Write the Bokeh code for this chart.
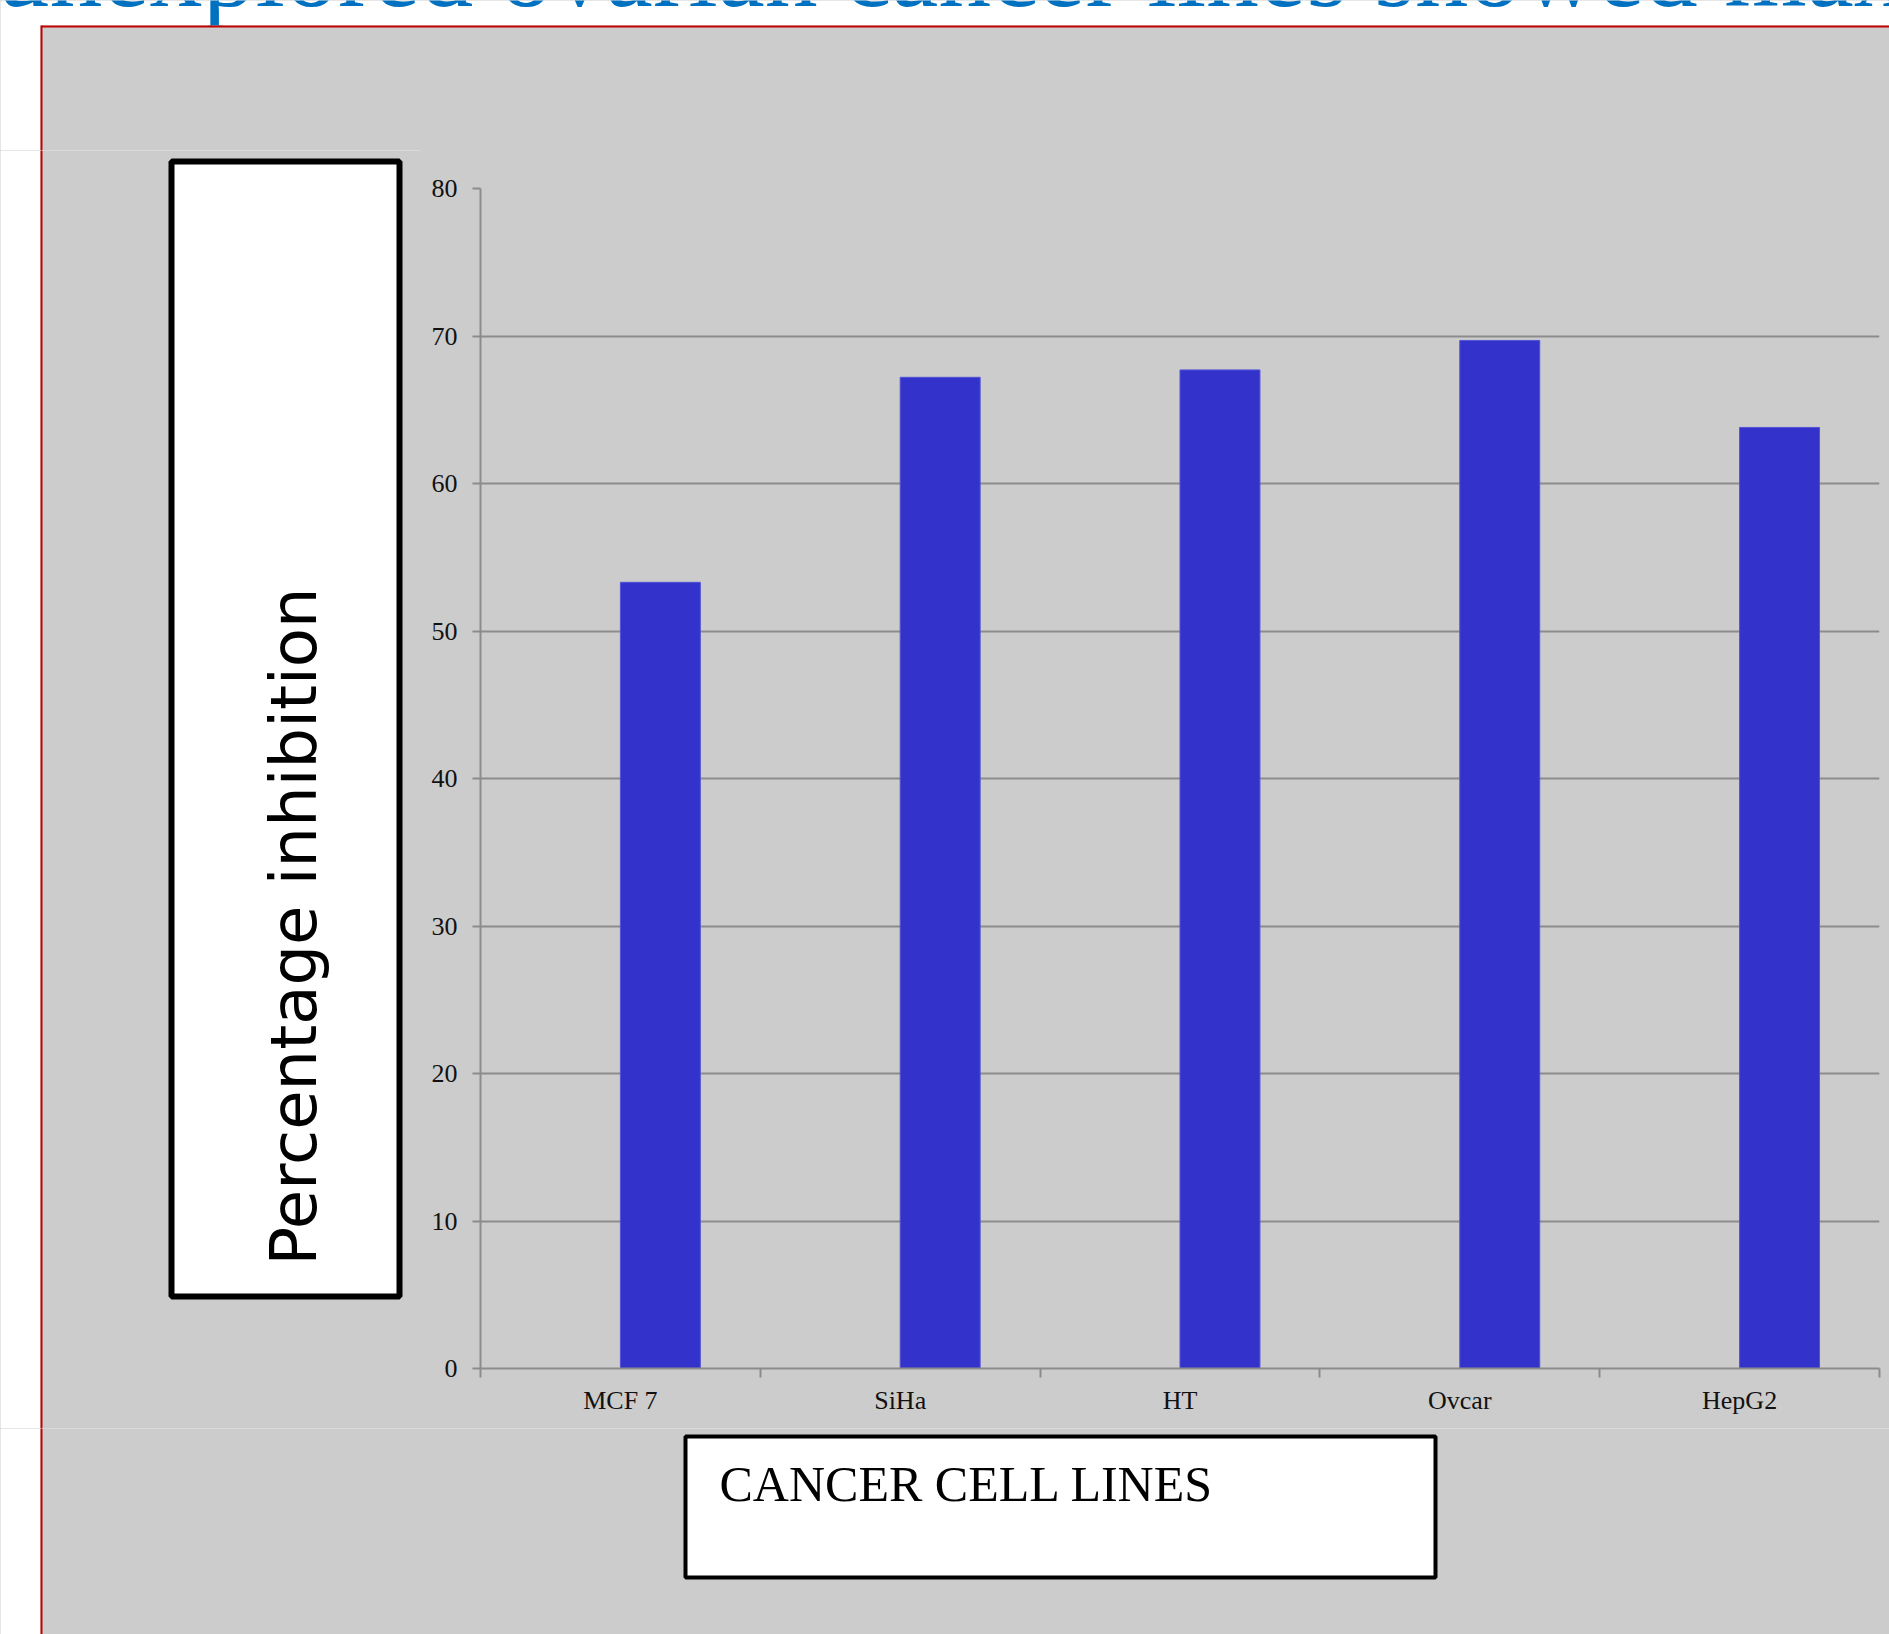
import numpy as np
from bokeh.plotting import figure
from bokeh.layouts import column, row
from bokeh.models import Range1d, FixedTicker
from bokeh.core.properties import value
from bokeh.embed import file_html
from bokeh.resources import INLINE

# ---------------- data ----------------
categories = ["MCF 7", "SiHa", "HT", "Ovcar", "HepG2"]
inhibition = [53.3, 67.2, 67.7, 69.7, 63.8]
y_ticks = [0, 10, 20, 30, 40, 50, 60, 70, 80]
title_text = "unexplored ovarian cancer lines showed max"
y_label = "Percentage inhibition"
x_label = "CANCER CELL LINES"

# ---------------- page layout ----------------
W, H = 1889, 1634
TOP_H = 150          # top strip (title + red frame top)
BOT_Y = 1428         # start of bottom strip
LEFT_W = 420         # left strip holding the y-title box
MID_H = BOT_Y - TOP_H
GRAY = "#cccccc"
RED = "#c00000"
BASELINE_FIX = 0.4   # em offset of Bokeh's "alphabetic" text placement


def deco_fig(w, h):
    f = figure(width=w, height=h, output_backend="svg", toolbar_location=None,
               title=None, x_axis_type=None, y_axis_type=None,
               x_range=Range1d(0, w), y_range=Range1d(h, 0),
               min_border=0, min_border_left=0, min_border_right=0,
               min_border_top=0, min_border_bottom=0, frame_align=False)
    f.background_fill_color = "white"
    f.border_fill_color = "white"
    f.outline_line_color = None
    return f


# ---- top strip ----
top = deco_fig(W, TOP_H)
top.text(x=[-4], y=[12 - BASELINE_FIX * 106], text=[title_text],
         text_font=value("Liberation Serif"),
         text_font_size=value("106px"), text_color="#0070c0",
         text_align="left", text_baseline="alphabetic")
top.quad(left=[40], right=[W + 10], top=[25], bottom=[TOP_H + 10],
         fill_color=GRAY, line_color=None)
top.segment(x0=[41], y0=[26], x1=[W + 10], y1=[26], line_color=RED, line_width=2)
top.segment(x0=[41], y0=[25], x1=[41], y1=[TOP_H + 10], line_color=RED, line_width=2)

# ---- left strip (y title) ----
left = deco_fig(LEFT_W, MID_H)
left.quad(left=[40], right=[LEFT_W + 10], top=[-10], bottom=[MID_H + 10],
          fill_color=GRAY, line_color=None)
left.segment(x0=[41], y0=[-10], x1=[41], y1=[MID_H + 10], line_color=RED, line_width=2)
left.quad(left=[171], right=[399], top=[161 - TOP_H], bottom=[1296 - TOP_H],
          fill_color="white", line_color="black", line_width=6)
left.text(x=[293], y=[926 - TOP_H], text=[y_label], angle=np.pi / 2,
          text_font=value("DejaVu Sans"), text_font_size=value("64px"),
          text_color="black", text_align="center", text_baseline="middle")

# ---- bottom strip (x title) ----
BOT_H = H - BOT_Y
bottom = deco_fig(W, BOT_H)
bottom.quad(left=[40], right=[W + 10], top=[-10], bottom=[BOT_H + 10],
            fill_color=GRAY, line_color=None)
bottom.segment(x0=[41], y0=[-10], x1=[41], y1=[BOT_H + 10], line_color=RED, line_width=2)
bottom.quad(left=[685], right=[1435], top=[1436 - BOT_Y], bottom=[1577 - BOT_Y],
            fill_color="white", line_color="black", line_width=4)
bottom.text(x=[719], y=[1503 - BASELINE_FIX * 50 - BOT_Y], text=[x_label],
            text_font=value("Liberation Serif"), text_font_size=value("50px"),
            text_color="black", text_align="left", text_baseline="alphabetic")

# ---- main chart ----
MAIN_W = W - LEFT_W
FRAME_L, FRAME_R, FRAME_T, FRAME_B = 480, 1879, 188, 1368   # page coords
p = figure(width=MAIN_W, height=MID_H, output_backend="svg", toolbar_location=None,
           title=None, frame_align=False,
           x_range=Range1d(0, len(categories)), y_range=Range1d(0, 80),
           min_border_left=FRAME_L - LEFT_W, min_border_right=W - FRAME_R,
           min_border_top=FRAME_T - TOP_H, min_border_bottom=BOT_Y - FRAME_B)
p.border_fill_color = GRAY
p.background_fill_color = GRAY
p.outline_line_color = None

bw = 2 / 7   # two-series Excel layout (first series empty), gap width 150%
xs = np.arange(len(categories)) + 0.5 + bw / 2
p.vbar(x=xs, width=bw, bottom=0, top=inhibition,
       fill_color="#3333cc", line_color="#5252d6", line_width=1)

p.xgrid.visible = False
p.ygrid.grid_line_color = "#8c8c8c"
p.ygrid.grid_line_width = 2

p.yaxis.ticker = FixedTicker(ticks=y_ticks)
p.yaxis.axis_line_color = "#8c8c8c"
p.yaxis.axis_line_width = 2
p.yaxis.major_tick_line_color = "#8c8c8c"
p.yaxis.major_tick_line_width = 2
p.yaxis.major_tick_out = 8
p.yaxis.major_tick_in = 0
p.yaxis.minor_tick_line_color = None
p.yaxis.major_label_standoff = 15
p.yaxis.major_label_text_font = "Liberation Serif"
p.yaxis.major_label_text_font_size = "26px"
p.yaxis.major_label_text_color = "#111111"

centres = [i + 0.5 for i in range(len(categories))]
bounds = [float(i) for i in range(len(categories) + 1)]
p.xaxis.ticker = FixedTicker(ticks=centres, minor_ticks=bounds)
p.xaxis.major_label_overrides = {c: name for c, name in zip(centres, categories)}
p.xaxis.axis_line_color = "#8c8c8c"
p.xaxis.axis_line_width = 2
p.xaxis.major_tick_line_color = None
p.xaxis.major_tick_out = 0
p.xaxis.major_tick_in = 0
p.xaxis.minor_tick_line_color = "#8c8c8c"
p.xaxis.minor_tick_line_width = 2
p.xaxis.minor_tick_out = 9
p.xaxis.minor_tick_in = 0
p.xaxis.major_label_standoff = 8
p.xaxis.major_label_text_font = "Liberation Serif"
p.xaxis.major_label_text_font_size = "26px"
p.xaxis.major_label_text_color = "#111111"

middle = row(left, p, spacing=0, styles={"background-color": GRAY})
layout = column(top, middle, bottom, spacing=0, styles={"background-color": GRAY})

open("out.html", "w").write(file_html(layout, INLINE))
